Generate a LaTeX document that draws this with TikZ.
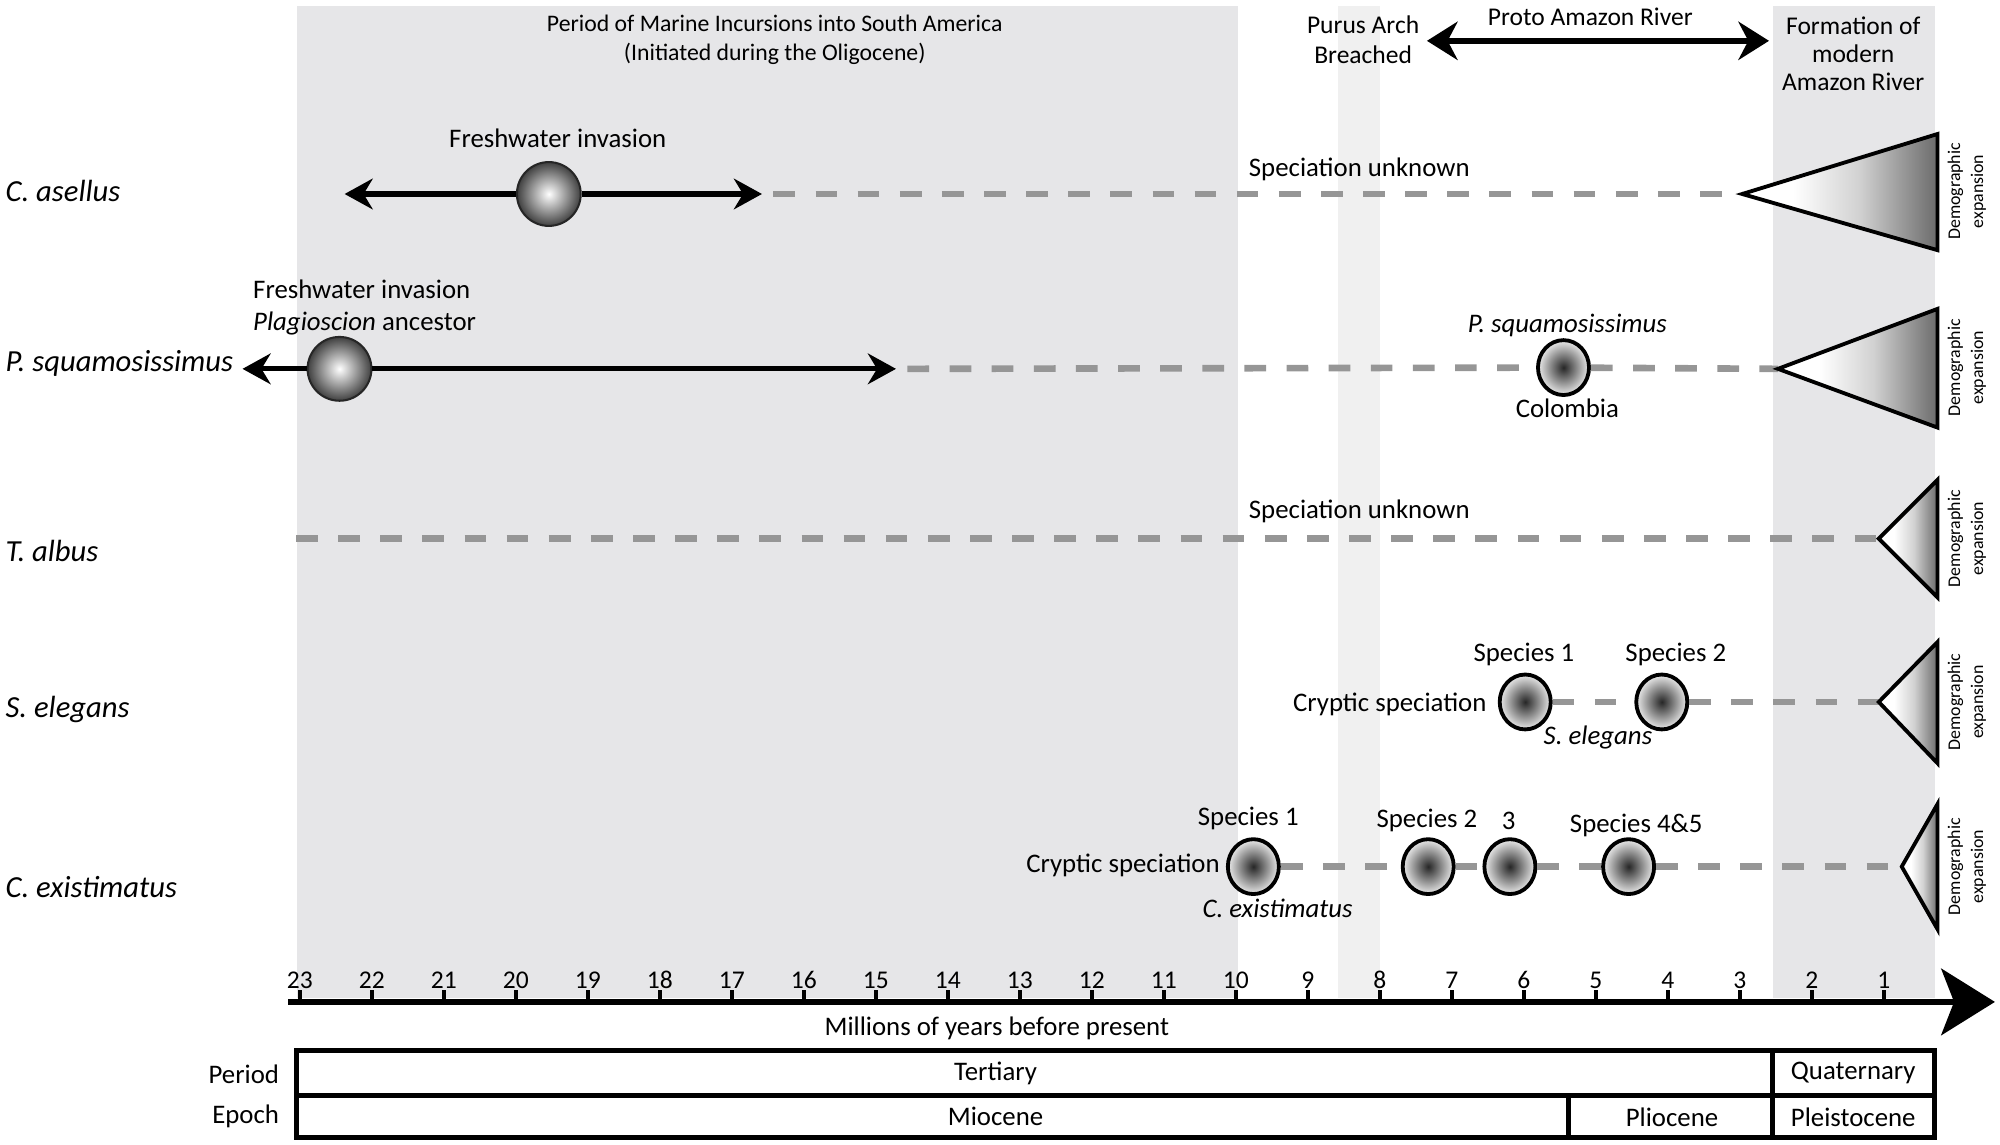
\documentclass[tikz,border=0pt]{standalone}
\usepackage{fontspec}
\setmainfont{Carlito}
\usetikzlibrary{arrows.meta,shapes.geometric,positioning}

\definecolor{marinegray}{RGB}{230,230,232}
\definecolor{archgray}{RGB}{240,240,240}
\definecolor{dashgray}{RGB}{150,150,150}

% white towards the apex, darker only near the base
\pgfdeclarehorizontalshading{expandshade}{100bp}{color(0bp)=(white); color(25bp)=(white);
  color(38bp)=(white); color(55bp)=(black!18); color(75bp)=(black!58); color(100bp)=(black!58)}

\tikzset{
  taxon/.style={font=\fontsize{12}{14}\selectfont\itshape, anchor=west, inner sep=1pt},
  note/.style={font=\fontsize{10.5}{12.5}\selectfont, align=center, inner sep=1pt},
  demo/.style={font=\fontsize{7}{9}\selectfont, align=center, rotate=90, inner sep=0pt},
  invasion/.style={-{Stealth[length=11pt,width=12pt]}, line width=2pt},
  lineage/.style={dashgray, line width=2.6pt, dash pattern=on 8.5pt off 8pt},
  fwball/.style={circle, minimum size=25pt, inner sep=0pt, draw=black!85, line width=0.8pt,
    shading=radial, inner color=white, outer color=black!75},
  spball/.style={ellipse, minimum width=20pt, minimum height=21.5pt, inner sep=0pt, draw,
    line width=1.5pt, shading=radial, inner color=black!85, outer color=black!8},
  expand/.style={draw, line width=1.5pt, line join=miter, shading=expandshade},
  cell/.style={line width=2pt},
}

\begin{document}
\begin{tikzpicture}[x=0.5pt,y=-0.5pt]
\useasboundingbox (0,0) rectangle (1567,897);

% time bands
\fill[marinegray] (233,5) rectangle (970,782);
\fill[archgray] (1048,5) rectangle (1081,782);
\fill[marinegray] (1389,5) rectangle (1516,782);

% headings
\node[note, font=\fontsize{9.3}{11.5}\selectfont] (marine) at (607,31) {Period of Marine Incursions into South America\\(Initiated during the Oligocene)};
\node[note, font=\fontsize{10}{11.5}\selectfont] (purus) at (1068,31) {Purus Arch\\Breached};
\node[note, font=\fontsize{10}{11.5}\selectfont] (proto) at (1246,13) {Proto Amazon River};
\coordinate (proto-l) at (1118,32);
\coordinate (proto-r) at (1386,32);
\draw[{Stealth[length=12pt,width=15pt]}-{Stealth[length=12pt,width=15pt]}, line width=2.5pt] (proto-l) -- (proto-r);
\node[note, font=\fontsize{10}{11}\selectfont] (modern) at (1452,42) {Formation of\\modern\\Amazon River};

% taxa
\node[taxon] (casellus) at (2,150) {C. asellus};
\node[taxon] (psquam) at (2,285) {P. squamosissimus};
\node[taxon] (talbus) at (2,432) {T. albus};
\node[taxon] (selegans) at (2,556) {S. elegans};
\node[taxon] (cexist) at (2,695) {C. existimatus};

% C. asellus
\node[fwball] (ca-ball) at (430,152) {};
\node[note] (ca-inv) at (437,108) {Freshwater invasion};
\coordinate (ca-l) at (270,152);
\coordinate (ca-r) at (597,152);
\coordinate (ca-d) at (606,152);
\coordinate (ca-apex) at (1365,152);
\draw[invasion] (ca-ball) -- (ca-l);
\draw[invasion] (ca-ball) -- (ca-r);
\draw[lineage] (ca-d) -- (ca-apex);
\node[note] (ca-unk) at (1065,133) {Speciation unknown};
\draw[expand] (ca-apex) -- (1518,105) -- (1518,196) -- cycle;
\node[demo] (ca-demo) at (1541,150) {Demographic\\expansion};

% P. squamosissimus
\node[fwball] (ps-ball) at (266,289) {};
\node[note, anchor=west, align=left] (ps-inv) at (196,241) {Freshwater invasion\\\textit{Plagioscion} ancestor};
\coordinate (ps-l) at (190,289);
\coordinate (ps-r) at (702,289);
\coordinate (ps-d) at (711,289);
\coordinate (ps-apex) at (1393,289);
\draw[invasion] (ps-ball) -- (ps-l);
\draw[invasion] (ps-ball) -- (ps-r);
\node[spball] (ps-col) at (1225,288) {};
\node[note, font=\fontsize{10.5}{12.5}\selectfont\itshape] (ps-name) at (1228,255) {P. squamosissimus};
\node[note] (ps-place) at (1228,320) {Colombia};
\draw[lineage] (ps-d) -- (ps-col);
\draw[lineage] (ps-col) -- (ps-apex);
\draw[expand] (ps-apex) -- (1518,242) -- (1518,335) -- cycle;
\node[demo] (ps-demo) at (1541,288) {Demographic\\expansion};

% T. albus
\coordinate (ta-l) at (232,422);
\coordinate (ta-apex) at (1472,422);
\draw[lineage] (ta-l) -- (ta-apex);
\node[note] (ta-unk) at (1065,401) {Speciation unknown};
\draw[expand] (ta-apex) -- (1518,376) -- (1518,468) -- cycle;
\node[demo] (ta-demo) at (1541,422) {Demographic\\expansion};

% S. elegans
\node[spball] (se-one) at (1195,550) {};
\node[spball] (se-two) at (1302,550) {};
\node[note, anchor=east] (se-crypt) at (1167,552) {Cryptic speciation};
\node[note] (se-one-lab) at (1194,513) {Species 1};
\node[note] (se-two-lab) at (1313,513) {Species 2};
\node[note, font=\fontsize{10.5}{12.5}\selectfont\itshape] (se-name) at (1252,578) {S. elegans};
\coordinate (se-apex) at (1472,550);
\draw[lineage] (se-one) -- (se-two);
\draw[lineage] (se-two) -- (se-apex);
\draw[expand] (se-apex) -- (1518,503) -- (1518,598) -- cycle;
\node[demo] (se-demo) at (1541,550) {Demographic\\expansion};

% C. existimatus
\node[spball] (ce-one) at (982,679) {};
\node[spball] (ce-two) at (1119,679) {};
\node[spball] (ce-three) at (1183,679) {};
\node[spball] (ce-four) at (1276,679) {};
\node[note, anchor=east] (ce-crypt) at (958,678) {Cryptic speciation};
\node[note] (ce-one-lab) at (978,641) {Species 1};
\node[note] (ce-two-lab) at (1118,643) {Species 2};
\node[note] (ce-three-lab) at (1182,643) {3};
\node[note] (ce-four-lab) at (1282,647) {Species 4\&5};
\node[note, font=\fontsize{10.5}{12.5}\selectfont\itshape] (ce-name) at (1001,712) {C. existimatus};
\coordinate (ce-apex) at (1490,679);
\draw[lineage] (ce-one) -- (ce-two);
\draw[lineage] (ce-two) -- (ce-three);
\draw[lineage] (ce-three) -- (ce-four);
\draw[lineage] (ce-four) -- (ce-apex);
\draw[expand] (ce-apex) -- (1518,630) -- (1518,728) -- cycle;
\node[demo] (ce-demo) at (1541,679) {Demographic\\expansion};

% time axis
\coordinate (axis-l) at (226,785);
\coordinate (axis-r) at (1563,785);
\draw[line width=2.5pt, -{Stealth[length=21pt,width=26pt,inset=5pt]}] (axis-l) -- (axis-r);
\foreach \t in {1,...,23} {
  \draw[line width=1.5pt] ({1532.4-56.41*\t},785) -- ++(0,-9);
  \node[note, font=\fontsize{10}{12}\selectfont] (tick\t) at ({1532.4-56.41*\t},768) {\t};
}
\node[note] (myr) at (781,806) {Millions of years before present};

% period / epoch table
\draw[cell] (232,823) rectangle (1516,891);
\draw[cell] (232,858) -- (1516,858);
\draw[cell] (1389,823) -- (1389,891);
\draw[cell] (1229,858) -- (1229,891);
\node[note, anchor=east] (period) at (221,842) {Period};
\node[note, anchor=east] (epoch) at (221,875) {Epoch};
\node[note] (tertiary) at (780,841) {Tertiary};
\node[note] (quaternary) at (1452,841) {Quaternary};
\node[note] (miocene) at (780,875) {Miocene};
\node[note] (pliocene) at (1310,875) {Pliocene};
\node[note] (pleistocene) at (1452,875) {Pleistocene};
\end{tikzpicture}
\end{document}
